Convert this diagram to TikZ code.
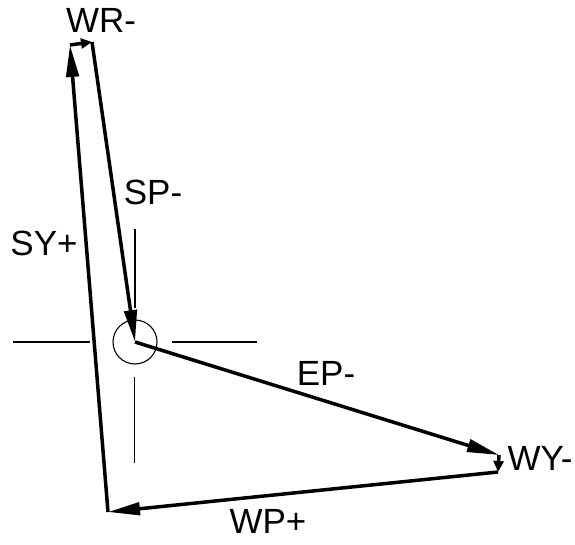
\documentclass[tikz,border=0pt]{standalone}
\usepackage{fontspec}
\setmainfont{Liberation Sans}
\usetikzlibrary{arrows.meta}
\begin{document}
\begin{tikzpicture}[x=1pt,y=-1pt,
  thickline/.style={line width=3.5pt},
  thinline/.style={line width=1.1pt},
  bigtip/.style={-{Triangle[length=32pt,width=12.5pt]}},
  smalltip/.style={-{Triangle[length=11pt,width=10pt]}},
  lbl/.style={font=\fontsize{35}{35}\selectfont, anchor=base, inner sep=0pt}]
\useasboundingbox (0,0) rectangle (575,545);
% corner points of the loop
\coordinate (C) at (135,342);
\coordinate (TL) at (70,45);
\coordinate (TR) at (92,42);
\coordinate (WYa) at (499,455);
\coordinate (WYb) at (498,472);
\coordinate (BL) at (108,512);
% crosshair and ring
\node[circle, draw, thinline, minimum size=44pt, inner sep=0pt] (ring) at (C) {};
\draw[thinline] (13,342) -- (90,342);
\draw[thinline] (172,342) -- (257,342);
\draw[thinline] (135,229) -- (135,308);
\draw[thinline] (134.5,377) -- (134.5,463);
% loop arrows
\draw[thickline, bigtip] (C) -- (WYa);
\draw[thickline, smalltip] (WYa) -- (WYb);
\draw[thickline, bigtip] (WYb) -- (BL);
\draw[thickline, bigtip] (BL) -- (TL);
\draw[thickline, smalltip] (TL) -- (TR);
\draw[thickline, bigtip] (TR) -- (C);
% labels
\node[lbl] (wr) at (101,33) {WR-};
\node[lbl] (sy) at (44,255) {SY+};
\node[lbl] (sp) at (153,205) {SP-};
\node[lbl] (ep) at (326,385) {EP-};
\node[lbl] (wp) at (268,533) {WP+};
\node[lbl] (wy) at (540,470) {WY-};
\end{tikzpicture}
\end{document}
